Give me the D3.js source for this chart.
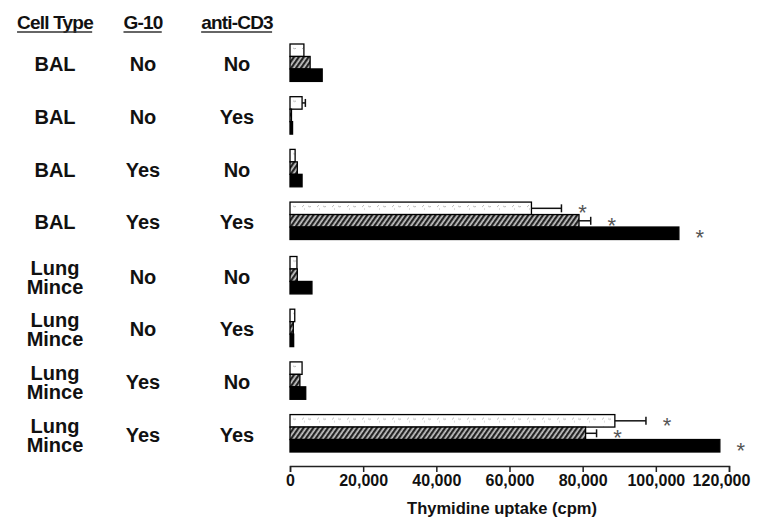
<!DOCTYPE html>
<meta charset="utf-8">
<style>
body { margin: 0; background: #fff; }
text { font-family: "Liberation Sans", Arial, sans-serif; font-weight: bold; fill: #111; }
</style>
<svg width="762" height="521"></svg>
<script src="https://cdnjs.cloudflare.com/ajax/libs/d3/7.8.5/d3.min.js"></script>
<script>
// table rows, top to bottom
var cellTypes = ["BAL", "BAL", "BAL", "BAL", "Lung Mince", "Lung Mince", "Lung Mince", "Lung Mince"];
var g10       = ["No", "No", "Yes", "Yes", "No", "No", "Yes", "Yes"];
var antiCD3   = ["No", "Yes", "No", "Yes", "No", "Yes", "No", "Yes"];

// thymidine uptake (cpm), three bars per row
var openBars  = [3800, 3300, 1400, 66000, 1900, 1300, 3300, 88800];
var hatchBars = [5500, 400, 2000, 79000, 2000, 900, 2700, 80800];
var solidBars = [8800, 700, 3300, 106300, 6000, 1000, 4300, 117500];
var openErr   = [0, 900, 0, 8200, 0, 0, 0, 8500];
var hatchErr  = [0, 0, 0, 3200, 0, 0, 0, 3000];
var solidErr  = [0, 0, 0, 0, 0, 0, 0, 0];
var starred   = [false, false, false, true, false, false, false, true];

var xTicks = [0, 20000, 40000, 60000, 80000, 100000, 120000];
var series = ["open", "hatch", "solid"];

var svg = d3.select("svg");
var defs = svg.append("defs");

var hatch = defs.append("pattern")
    .attr("id", "hatch")
    .attr("patternUnits", "userSpaceOnUse")
    .attr("width", 4).attr("height", 4)
    .attr("patternTransform", "rotate(35)");
hatch.append("rect").attr("width", 4).attr("height", 4).attr("fill", "#c8c8c8");
hatch.append("line").attr("x1", 1.2).attr("x2", 1.2).attr("y1", 0).attr("y2", 4)
    .attr("stroke", "#1a1a1a").attr("stroke-width", 2.2);

var speckle = defs.append("pattern")
    .attr("id", "speckle")
    .attr("patternUnits", "userSpaceOnUse")
    .attr("width", 15).attr("height", 9);
speckle.append("rect").attr("width", 15).attr("height", 9).attr("fill", "#fff");
speckle.append("path")
    .attr("d", "M2,5 l2,-2 M8,4 l2,1 l1,-1 M4,7 l1,0")
    .attr("stroke", "#aaa").attr("stroke-width", 0.8).attr("fill", "none");

var x = d3.scaleLinear().domain([0, 120000]).range([290, 729]);

var groupY = d3.scaleBand()
    .domain(["BAL", "Lung Mince"])
    .range([44, 452])
    .paddingInner(0.08);

var condY = d3.scaleBand()
    .domain(["No/No", "No/Yes", "Yes/No", "Yes/Yes"])
    .range([0, groupY.bandwidth()])
    .paddingInner(0.29);

var barY = d3.scaleBand().domain(series).range([0, condY.bandwidth()]);

var fills = { open: "url(#speckle)", hatch: "url(#hatch)", solid: "#000" };

var rows = d3.range(cellTypes.length).map(function(i) {
    return {
        cell: cellTypes[i],
        g10: g10[i],
        cd3: antiCD3[i],
        top: groupY(cellTypes[i]) + condY(g10[i] + "/" + antiCD3[i]),
        starred: starred[i],
        bars: [
            { s: "open", v: openBars[i], e: openErr[i] },
            { s: "hatch", v: hatchBars[i], e: hatchErr[i] },
            { s: "solid", v: solidBars[i], e: solidErr[i] }
        ]
    };
});

// header
var colX = { cell: 55, g10: 143, cd3: 237 };
var headers = [["Cell Type", colX.cell], ["G-10", colX.g10], ["anti-CD3", colX.cd3]];
headers.forEach(function(h) {
    var t = svg.append("text")
        .attr("x", h[1]).attr("y", 29)
        .attr("text-anchor", "middle")
        .style("font-size", "19px")
        .style("letter-spacing", "-0.8px")
        .text(h[0]);
    var b = t.node().getBBox();
    svg.append("line")
        .attr("x1", b.x).attr("x2", b.x + b.width - 1)
        .attr("y1", 32).attr("y2", 32)
        .attr("stroke", "#333").attr("stroke-width", 1.5);
});

// row labels
var row = svg.selectAll("g.row")
    .data(rows)
    .enter().append("g")
    .attr("class", "row")
    .attr("transform", function(d) { return "translate(0," + d.top + ")"; });

var mid = condY.bandwidth() / 2;

row.append("text")
    .attr("x", colX.cell)
    .attr("text-anchor", "middle")
    .style("font-size", "20px")
    .each(function(d) {
        var words = d.cell.split(" ");
        var t = d3.select(this);
        if (words.length == 1) {
            t.append("tspan").attr("x", colX.cell).attr("y", mid + 8.5).text(words[0]);
        } else {
            t.append("tspan").attr("x", colX.cell).attr("y", mid - 0.5).text(words[0]);
            t.append("tspan").attr("x", colX.cell).attr("y", mid + 18.5).text(words[1]);
        }
    });

row.append("text")
    .attr("x", colX.g10).attr("y", mid + 8.5)
    .attr("text-anchor", "middle")
    .style("font-size", "20px")
    .text(function(d) { return d.g10; });

row.append("text")
    .attr("x", colX.cd3).attr("y", mid + 8.5)
    .attr("text-anchor", "middle")
    .style("font-size", "20px")
    .text(function(d) { return d.cd3; });

// bars
var bar = row.selectAll("g.bar")
    .data(function(d) { return d.bars.map(function(b) { b.starred = d.starred; return b; }); })
    .enter().append("g")
    .attr("class", "bar")
    .attr("transform", function(d) { return "translate(0," + barY(d.s) + ")"; });

bar.append("rect")
    .attr("x", x(0))
    .attr("y", 0)
    .attr("width", function(d) { return x(d.v) - x(0); })
    .attr("height", barY.bandwidth())
    .attr("fill", function(d) { return fills[d.s]; })
    .attr("stroke", "#000")
    .attr("stroke-width", 1.3);

// error bars
var err = bar.filter(function(d) { return d.e > 0; });
var h = barY.bandwidth() / 2;
err.append("line")
    .attr("x1", function(d) { return x(d.v); })
    .attr("x2", function(d) { return x(d.v + d.e); })
    .attr("y1", h).attr("y2", h)
    .attr("stroke", "#111").attr("stroke-width", 1.5);
err.append("line")
    .attr("x1", function(d) { return x(d.v + d.e); })
    .attr("x2", function(d) { return x(d.v + d.e); })
    .attr("y1", h - 4).attr("y2", h + 4)
    .attr("stroke", "#111").attr("stroke-width", 1.5);

// significance stars
bar.filter(function(d) { return d.starred; })
    .append("text")
    .attr("x", function(d) { return x(d.v + d.e) + 21; })
    .attr("y", h + 12)
    .attr("text-anchor", "middle")
    .style("font-size", "22px")
    .style("font-weight", "normal")
    .style("fill", "#555")
    .text("*");

// x axis
var axis = svg.append("g")
    .attr("transform", "translate(0,466)")
    .call(d3.axisBottom(x)
        .tickValues(xTicks)
        .tickSize(6)
        .tickPadding(3)
        .tickFormat(d3.format(",")));

axis.select(".domain").attr("stroke", "#222").attr("stroke-width", 1.5);
axis.selectAll(".tick line").attr("stroke", "#222").attr("stroke-width", 1.5);
axis.selectAll(".tick text")
    .style("font-size", "16px")
    .style("font-family", "'Liberation Sans', Arial, sans-serif")
    .style("font-weight", "bold")
    .attr("fill", "#111")
    .attr("dx", function(d) { return d == 120000 ? -8 : 0; });

svg.append("text")
    .attr("x", 502).attr("y", 514)
    .attr("text-anchor", "middle")
    .style("font-size", "16.5px")
    .text("Thymidine uptake (cpm)");
</script>
